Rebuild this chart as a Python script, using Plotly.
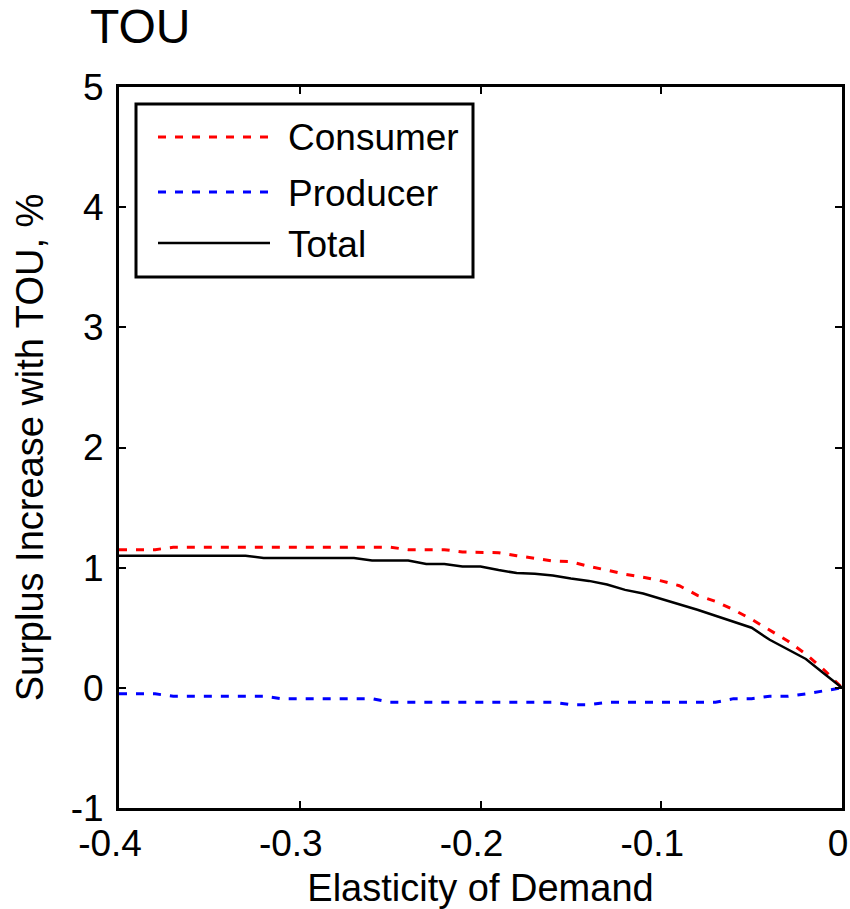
import plotly.graph_objects as go

elasticity = [-0.40, -0.39, -0.38, -0.37, -0.36, -0.35, -0.34, -0.33, -0.32, -0.31,
              -0.30, -0.29, -0.28, -0.27, -0.26, -0.25, -0.24, -0.23, -0.22, -0.21,
              -0.20, -0.19, -0.18, -0.17, -0.16, -0.15, -0.14, -0.13, -0.12, -0.11,
              -0.10, -0.09, -0.08, -0.07, -0.06, -0.05, -0.04, -0.03, -0.02, -0.01, 0.00]

consumer = [1.15, 1.15, 1.15, 1.17, 1.17, 1.17, 1.17, 1.17, 1.17, 1.17,
            1.17, 1.17, 1.17, 1.17, 1.17, 1.17, 1.15, 1.15, 1.15, 1.13,
            1.13, 1.125, 1.10, 1.08, 1.055, 1.05, 1.01, 0.98, 0.945, 0.92,
            0.89, 0.85, 0.77, 0.72, 0.65, 0.57, 0.48, 0.39, 0.28, 0.15, 0.00]

producer = [-0.05, -0.05, -0.05, -0.07, -0.07, -0.07, -0.07, -0.07, -0.07, -0.09,
            -0.09, -0.09, -0.09, -0.09, -0.09, -0.12, -0.12, -0.12, -0.12, -0.12,
            -0.12, -0.12, -0.12, -0.12, -0.12, -0.14, -0.14, -0.12, -0.12, -0.12,
            -0.12, -0.12, -0.12, -0.12, -0.09, -0.09, -0.07, -0.07, -0.05, -0.025, 0.00]

total = [1.10, 1.10, 1.10, 1.10, 1.10, 1.10, 1.10, 1.10, 1.08, 1.08,
         1.08, 1.08, 1.08, 1.08, 1.06, 1.06, 1.06, 1.03, 1.03, 1.01,
         1.01, 0.98, 0.955, 0.95, 0.935, 0.91, 0.89, 0.86, 0.815, 0.785,
         0.74, 0.70, 0.65, 0.60, 0.55, 0.50, 0.40, 0.32, 0.24, 0.12, 0.00]

series_names = ["Consumer", "Producer", "Total"]
series_colors = ["#ff0000", "#0000ff", "#000000"]
series_dash = ["8px,9px", "8px,9px", "solid"]

x_ticks = [-0.4, -0.3, -0.2, -0.1, 0]
x_tick_text = ["-0.4", "-0.3", "-0.2", "-0.1", "\u00a00"]
y_ticks = [-1, 0, 1, 2, 3, 4, 5]
y_tick_text = ["-1", "0", "1", "2", "3", "4", "5"]

FONT = "Liberation Sans, Arial, sans-serif"

# plot area in pixels (for legend placement)
W, H = 850, 909
L, R, T, B = 119, 8, 87, 101
PW, PH = W - L - R, H - T - B


def px(x):
    return (x - L) / PW


def py(y):
    return (H - B - y) / PH


fig = go.Figure()
for name, ys, col, dash in zip(series_names, [consumer, producer, total],
                               series_colors, series_dash):
    fig.add_trace(go.Scatter(x=elasticity, y=ys, mode="lines", name=name,
                             line=dict(color=col, width=3 if dash != "solid" else 2.5,
                                       dash=dash)))

axis_common = dict(showgrid=False, zeroline=False, showline=True, linecolor="black",
                   linewidth=3, mirror="ticks", ticks="inside", ticklen=7,
                   tickwidth=2, tickcolor="black", automargin=False,
                   ticklabeloverflow="allow",
                   tickfont=dict(family=FONT, size=37, color="black"))

# manual legend (box, line samples, labels)
shapes = [dict(type="rect", xref="paper", yref="paper",
               x0=px(136), x1=px(473), y0=py(277), y1=py(104),
               line=dict(color="black", width=3), fillcolor="white", layer="above")]
annotations = []
legend_rows = [137, 192, 243]
for name, col, dash, row in zip(series_names, series_colors, series_dash, legend_rows):
    shapes.append(dict(type="line", xref="paper", yref="paper",
                       x0=px(158), x1=px(270), y0=py(row), y1=py(row),
                       line=dict(color=col, width=3 if dash != "solid" else 2.5,
                                 dash=dash), layer="above"))
    annotations.append(dict(text=name, xref="paper", yref="paper",
                            x=px(286), y=py(row + 1), xanchor="left", yanchor="middle",
                            showarrow=False,
                            font=dict(family=FONT, size=37, color="black")))

fig.update_layout(
    width=W, height=H,
    margin=dict(l=L, r=R, t=T, b=B),
    paper_bgcolor="white", plot_bgcolor="white",
    font=dict(family=FONT, size=38, color="black"),
    title=dict(text="TOU", x=90 / W, xanchor="left", xref="container",
               y=1 - 26 / H, yanchor="middle", yref="container",
               font=dict(family=FONT, size=48, color="black")),
    xaxis=dict(range=[-0.4, 0], tickvals=x_ticks, ticktext=x_tick_text,
               title=dict(text="Elasticity of Demand", standoff=11,
                          font=dict(family=FONT, size=38)),
               ticklabelstandoff=1, ticklabelshift=-9, **axis_common),
    yaxis=dict(range=[-1, 5], tickvals=y_ticks, ticktext=y_tick_text,
               title=dict(text="Surplus Increase with TOU, %", standoff=16,
                          font=dict(family=FONT, size=38)),
               ticklabelstandoff=5, **axis_common),
    shapes=shapes,
    annotations=annotations,
    showlegend=False,
)

fig.write_html("out.html")
